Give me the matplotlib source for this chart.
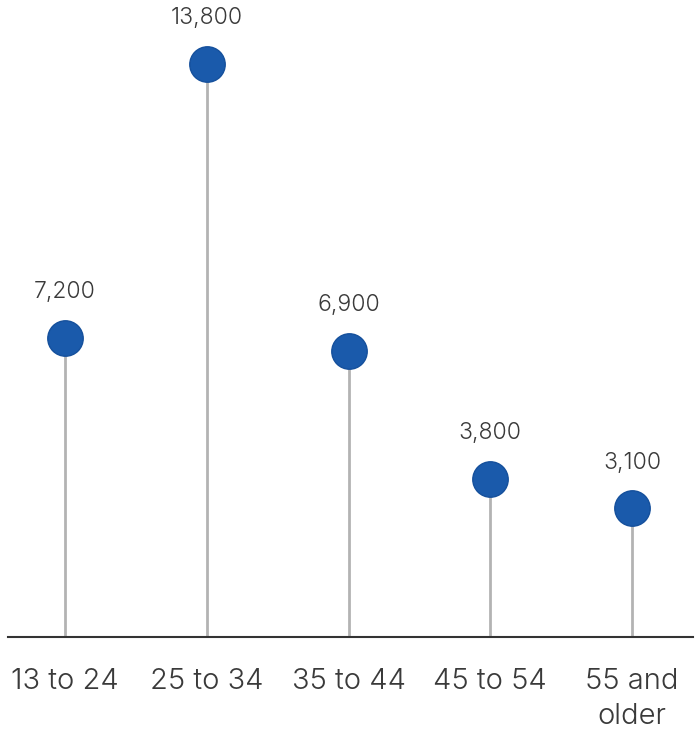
import matplotlib
matplotlib.use("Agg")
import matplotlib.pyplot as plt

categories = ["13 to 24", "25 to 34", "35 to 44", "45 to 54", "55 and\nolder"]
values = [7200, 13800, 6900, 3800, 3100]
value_labels = ["7,200", "13,800", "6,900", "3,800", "3,100"]

plt.rcParams['font.family'] = ['Inter', 'DejaVu Sans']

W, H = 700, 732
fig = plt.figure(figsize=(W / 100, H / 100), dpi=100)
left_px, right_px, base_px = 8, 693, 95
ax = fig.add_axes([left_px / W, base_px / H, (right_px - left_px) / W, (H - base_px) / H])

x = list(range(len(categories)))
dot = "#1a5aab"
stem = "#b3b3b3"
text_c = "#3a3a3a"

ax.vlines(x, 0, values, color=stem, linewidth=2, zorder=1)
ax.plot(x, values, 'o', markersize=25.5, color=dot, markeredgecolor="#15509c",
        markeredgewidth=1, zorder=3, linestyle='none')

for xi, v, lab in zip(x, values, value_labels):
    ax.annotate(lab, (xi, v), xytext=(0, 33), textcoords='offset points',
                ha='center', va='center', fontsize=16.5, color=text_c,
                fontweight=300)

spacing = 141.75
ax.set_xlim(-(65 - left_px) / spacing, (right_px - 65) / spacing)
scale = 41.5 / 1000
ax.set_ylim(0, (H - base_px) / scale)

ax.set_xticks(x)
ax.set_xticklabels(categories, fontsize=21, color=text_c, fontweight=300,
                   linespacing=1.42)
ax.tick_params(axis='x', length=0, pad=22)
ax.set_yticks([])
for s in ['top', 'right', 'left']:
    ax.spines[s].set_visible(False)
ax.spines['bottom'].set_color("#333333")
ax.spines['bottom'].set_linewidth(1.5)

fig.savefig("out.png", dpi=100)
